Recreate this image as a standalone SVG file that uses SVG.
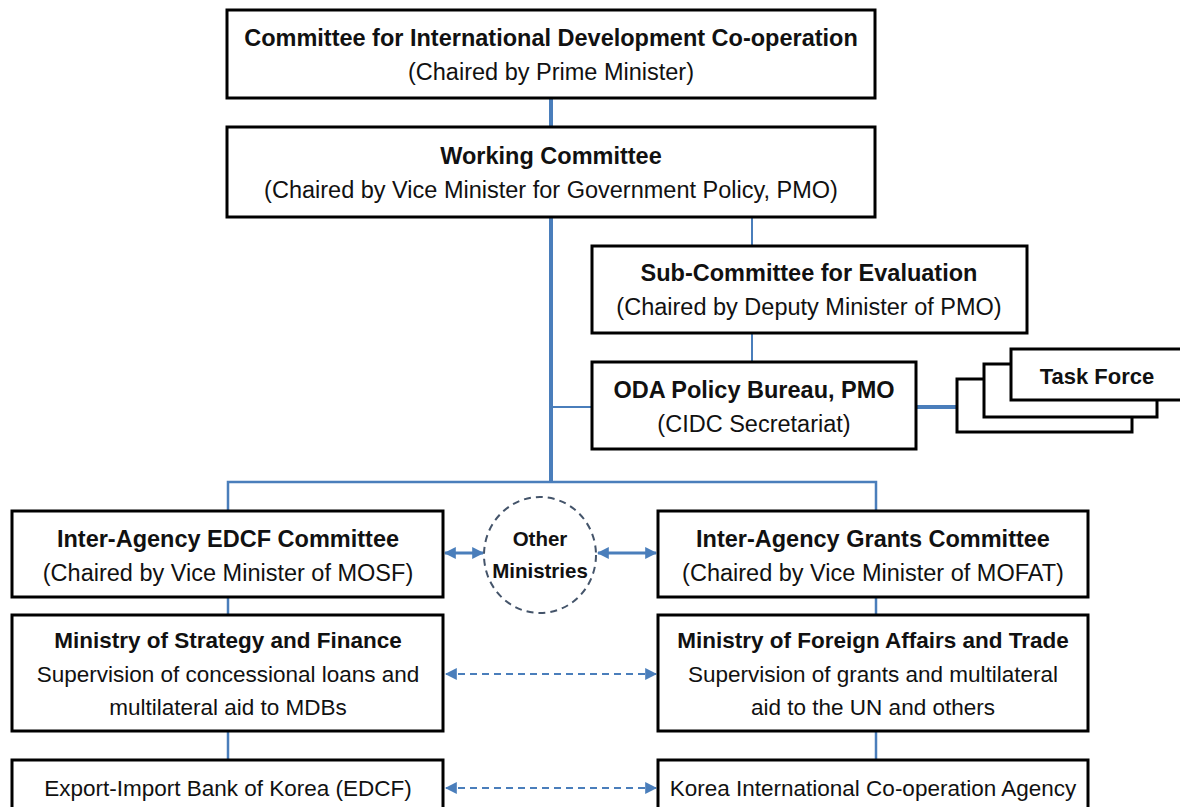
<svg xmlns="http://www.w3.org/2000/svg" width="1180" height="807" viewBox="0 0 1180 807">
<defs>
<style>
.box{fill:#fff;stroke:#000;stroke-width:3}
.t{font-family:"Liberation Sans",Arial,sans-serif;font-size:23.5px;fill:#111;text-anchor:middle}
.s{font-size:22.5px}
.om{font-size:20.5px}
.tf{font-size:22px}
.b{font-weight:bold}
.ln{stroke:#4a7ebb;fill:none}
.dash{stroke:#4a7ebb;stroke-width:2;stroke-dasharray:7 5;fill:none}
</style>
<marker id="ah" viewBox="0 0 10 10" refX="9" refY="5" markerWidth="12" markerHeight="12" markerUnits="userSpaceOnUse" orient="auto-start-reverse">
<path d="M0,0 L10,5 L0,10 z" fill="#4a7ebb"/>
</marker>
</defs>
<g id="connectors">
<line class="ln" x1="551" y1="98" x2="551" y2="127" stroke-width="4"/>
<line class="ln" x1="551" y1="217" x2="551" y2="483" stroke-width="4"/>
<line class="ln" x1="752" y1="217" x2="752" y2="246" stroke-width="2"/>
<line class="ln" x1="752" y1="333" x2="752" y2="362" stroke-width="2"/>
<line class="ln" x1="551" y1="407" x2="592" y2="407" stroke-width="2"/>
<line class="ln" x1="916" y1="407" x2="956" y2="407" stroke-width="4"/>
<polyline class="ln" points="228,511 228,482 876,482 876,511" stroke-width="2.5"/>
<line class="ln" x1="228" y1="597" x2="228" y2="615" stroke-width="2.5"/>
<line class="ln" x1="876" y1="597" x2="876" y2="615" stroke-width="2.5"/>
<line class="ln" x1="228" y1="731" x2="228" y2="760" stroke-width="2.5"/>
<line class="ln" x1="876" y1="731" x2="876" y2="760" stroke-width="2.5"/>
<line class="ln" x1="445" y1="553" x2="483" y2="553" stroke-width="3" marker-start="url(#ah)" marker-end="url(#ah)"/>
<line class="ln" x1="598" y1="553" x2="656" y2="553" stroke-width="3" marker-start="url(#ah)" marker-end="url(#ah)"/>
<line class="dash" x1="446" y1="674" x2="656" y2="674" marker-start="url(#ah)" marker-end="url(#ah)"/>
<line class="dash" x1="446" y1="788" x2="656" y2="788" marker-start="url(#ah)" marker-end="url(#ah)"/>
</g>
<g id="cidc">
<rect class="box" x="227" y="10" width="648" height="88"/>
<text class="t b" x="551" y="46">Committee for International Development Co-operation</text>
<text class="t" x="551" y="80">(Chaired by Prime Minister)</text>
</g>
<g id="working">
<rect class="box" x="227" y="127" width="648" height="90"/>
<text class="t b" x="551" y="164">Working Committee</text>
<text class="t" x="551" y="198">(Chaired by Vice Minister for Government Policy, PMO)</text>
</g>
<g id="subcommittee">
<rect class="box" x="592" y="246" width="435" height="87"/>
<text class="t b" x="809" y="281">Sub-Committee for Evaluation</text>
<text class="t" x="809" y="315">(Chaired by Deputy Minister of PMO)</text>
</g>
<g id="oda">
<rect class="box" x="592" y="362" width="324" height="87"/>
<text class="t b" x="754" y="398">ODA Policy Bureau, PMO</text>
<text class="t" x="754" y="432">(CIDC Secretariat)</text>
</g>
<g id="taskforce">
<rect class="box" x="957" y="379" width="175" height="53"/>
<rect class="box" x="984" y="364" width="173" height="53"/>
<rect class="box" x="1011" y="349" width="172" height="51"/>
<text class="t tf b" x="1097" y="384">Task Force</text>
</g>
<g id="edcf-committee">
<rect class="box" x="12" y="511" width="431" height="86" stroke-width="3.5"/>
<text class="t b" x="228" y="547">Inter-Agency EDCF Committee</text>
<text class="t" x="228" y="581">(Chaired by Vice Minister of MOSF)</text>
</g>
<g id="other-ministries">
<ellipse cx="540" cy="555" rx="56" ry="58" fill="#fff" stroke="#44546a" stroke-width="2" stroke-dasharray="7 5"/>
<text class="t om b" x="540" y="546">Other</text>
<text class="t om b" x="540" y="578">Ministries</text>
</g>
<g id="grants-committee">
<rect class="box" x="658" y="511" width="430" height="86" stroke-width="3.5"/>
<text class="t b" x="873" y="547">Inter-Agency Grants Committee</text>
<text class="t" x="873" y="581">(Chaired by Vice Minister of MOFAT)</text>
</g>
<g id="mosf">
<rect class="box" x="12" y="615" width="431" height="116" stroke-width="3.5"/>
<text class="t s b" x="228" y="648">Ministry of Strategy and Finance</text>
<text class="t s" x="228" y="682">Supervision of concessional loans and</text>
<text class="t s" x="228" y="715">multilateral aid to MDBs</text>
</g>
<g id="mofat">
<rect class="box" x="658" y="615" width="430" height="116" stroke-width="3.5"/>
<text class="t s b" x="873" y="648">Ministry of Foreign Affairs and Trade</text>
<text class="t s" x="873" y="682">Supervision of grants and multilateral</text>
<text class="t s" x="873" y="715">aid to the UN and others</text>
</g>
<g id="eximbank">
<rect class="box" x="12" y="760" width="431" height="60" stroke-width="3.5"/>
<text class="t s" x="228" y="796">Export-Import Bank of Korea (EDCF)</text>
</g>
<g id="koica">
<rect class="box" x="658" y="760" width="430" height="60" stroke-width="3.5"/>
<text class="t s" x="873" y="796">Korea International Co-operation Agency</text>
</g>
</svg>
